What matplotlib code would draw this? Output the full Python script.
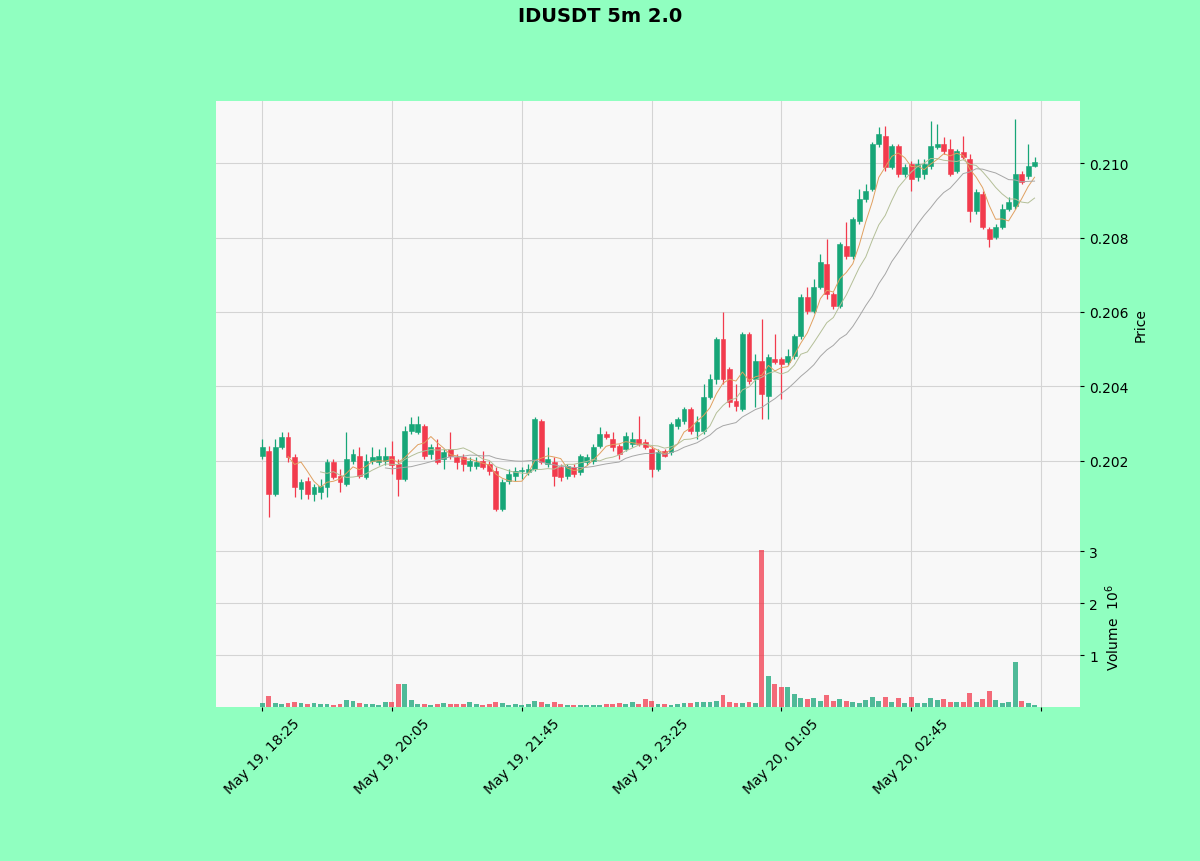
import numpy as np
import pandas as pd
import matplotlib
matplotlib.use("Agg")
import matplotlib.pyplot as plt

# 5 minute candles, May 19 18:25 -> May 20 04:20
opens = [
    0.20213, 0.20227, 0.20111, 0.20237, 0.20264, 0.20211, 0.20125, 0.20146, 0.20111, 0.20117,
    0.20130, 0.20197, 0.20160, 0.20138, 0.20200, 0.20213, 0.20157, 0.20200, 0.20197, 0.20200,
    0.20213, 0.20192, 0.20152, 0.20280, 0.20278, 0.20294, 0.20219, 0.20237, 0.20205, 0.20232,
    0.20211, 0.20211, 0.20186, 0.20186, 0.20200, 0.20192, 0.20173, 0.20071, 0.20146, 0.20160,
    0.20173, 0.20170, 0.20178, 0.20307, 0.20192, 0.20197, 0.20184, 0.20160, 0.20184, 0.20170,
    0.20197, 0.20200, 0.20240, 0.20272, 0.20259, 0.20240, 0.20232, 0.20246, 0.20259, 0.20251,
    0.20232, 0.20178, 0.20227, 0.20224, 0.20294, 0.20307, 0.20339, 0.20280, 0.20280, 0.20372,
    0.20420, 0.20527, 0.20447, 0.20361, 0.20339, 0.20541, 0.20420, 0.20468, 0.20374, 0.20474,
    0.20474, 0.20466, 0.20482, 0.20535, 0.20640, 0.20603, 0.20667, 0.20729, 0.20648, 0.20616,
    0.20777, 0.20750, 0.20844, 0.20903, 0.20930, 0.21051, 0.21072, 0.20989, 0.21046, 0.20970,
    0.20997, 0.20962, 0.20970, 0.20992, 0.21043, 0.21051, 0.21038, 0.20979, 0.21030, 0.21011,
    0.20871, 0.20917, 0.20823, 0.20801, 0.20828, 0.20876, 0.20885, 0.20970, 0.20965, 0.20992,
]
highs = [
    0.20259, 0.20240, 0.20259, 0.20278, 0.20278, 0.20219, 0.20152, 0.20157, 0.20138, 0.20152,
    0.20205, 0.20205, 0.20178, 0.20278, 0.20232, 0.20237, 0.20219, 0.20237, 0.20232, 0.20237,
    0.20254, 0.20205, 0.20294, 0.20318, 0.20321, 0.20299, 0.20246, 0.20259, 0.20232, 0.20278,
    0.20219, 0.20219, 0.20211, 0.20211, 0.20227, 0.20200, 0.20184, 0.20152, 0.20178, 0.20184,
    0.20184, 0.20192, 0.20318, 0.20313, 0.20237, 0.20211, 0.20192, 0.20192, 0.20192, 0.20219,
    0.20219, 0.20246, 0.20291, 0.20280, 0.20278, 0.20246, 0.20278, 0.20278, 0.20321, 0.20259,
    0.20240, 0.20232, 0.20232, 0.20305, 0.20318, 0.20345, 0.20345, 0.20321, 0.20407, 0.20433,
    0.20533, 0.20600, 0.20452, 0.20407, 0.20546, 0.20546, 0.20487, 0.20581, 0.20487, 0.20541,
    0.20479, 0.20501, 0.20541, 0.20648, 0.20667, 0.20689, 0.20757, 0.20796, 0.20654, 0.20788,
    0.20842, 0.20855, 0.20930, 0.20944, 0.21056, 0.21097, 0.21099, 0.21051, 0.21051, 0.20997,
    0.21005, 0.21011, 0.21011, 0.21113, 0.21105, 0.21070, 0.21064, 0.21038, 0.21072, 0.21024,
    0.20930, 0.20925, 0.20828, 0.20836, 0.20890, 0.20909, 0.21118, 0.20979, 0.21051, 0.21016,
]
lows = [
    0.20205, 0.20050, 0.20106, 0.20232, 0.20197, 0.20103, 0.20098, 0.20098, 0.20092, 0.20098,
    0.20103, 0.20152, 0.20117, 0.20133, 0.20192, 0.20154, 0.20152, 0.20192, 0.20189, 0.20189,
    0.20165, 0.20106, 0.20146, 0.20272, 0.20272, 0.20205, 0.20205, 0.20192, 0.20178, 0.20205,
    0.20178, 0.20173, 0.20173, 0.20178, 0.20178, 0.20162, 0.20066, 0.20066, 0.20138, 0.20146,
    0.20152, 0.20162, 0.20173, 0.20192, 0.20184, 0.20133, 0.20146, 0.20152, 0.20157, 0.20162,
    0.20189, 0.20192, 0.20235, 0.20259, 0.20227, 0.20205, 0.20227, 0.20237, 0.20240, 0.20232,
    0.20157, 0.20173, 0.20211, 0.20216, 0.20286, 0.20299, 0.20272, 0.20259, 0.20272, 0.20366,
    0.20407, 0.20407, 0.20345, 0.20334, 0.20334, 0.20407, 0.20345, 0.20313, 0.20313, 0.20460,
    0.20366, 0.20458, 0.20474, 0.20527, 0.20595, 0.20597, 0.20662, 0.20635, 0.20608, 0.20611,
    0.20742, 0.20742, 0.20836, 0.20895, 0.20925, 0.21043, 0.20979, 0.20984, 0.20962, 0.20962,
    0.20925, 0.20952, 0.20957, 0.20984, 0.21038, 0.21024, 0.20965, 0.20973, 0.21011, 0.20842,
    0.20863, 0.20823, 0.20774, 0.20796, 0.20823, 0.20871, 0.20876, 0.20944, 0.20957, 0.20989,
]
closes = [
    0.20237, 0.20111, 0.20237, 0.20264, 0.20211, 0.20130, 0.20143, 0.20111, 0.20130, 0.20133,
    0.20197, 0.20157, 0.20143, 0.20205, 0.20219, 0.20160, 0.20200, 0.20211, 0.20213, 0.20213,
    0.20189, 0.20152, 0.20280, 0.20299, 0.20299, 0.20213, 0.20237, 0.20197, 0.20224, 0.20213,
    0.20197, 0.20192, 0.20200, 0.20197, 0.20184, 0.20173, 0.20071, 0.20143, 0.20165, 0.20173,
    0.20176, 0.20178, 0.20313, 0.20197, 0.20205, 0.20160, 0.20157, 0.20186, 0.20165, 0.20213,
    0.20211, 0.20237, 0.20272, 0.20264, 0.20237, 0.20219, 0.20267, 0.20259, 0.20246, 0.20237,
    0.20178, 0.20224, 0.20213, 0.20299, 0.20313, 0.20339, 0.20280, 0.20305, 0.20372, 0.20420,
    0.20527, 0.20420, 0.20358, 0.20348, 0.20541, 0.20415, 0.20468, 0.20380, 0.20479, 0.20466,
    0.20460, 0.20482, 0.20535, 0.20640, 0.20603, 0.20667, 0.20734, 0.20648, 0.20616, 0.20783,
    0.20750, 0.20850, 0.20903, 0.20925, 0.21051, 0.21078, 0.20989, 0.21046, 0.20970, 0.20989,
    0.20957, 0.20997, 0.20997, 0.21046, 0.21051, 0.21032, 0.20970, 0.21032, 0.21016, 0.20871,
    0.20922, 0.20828, 0.20796, 0.20828, 0.20876, 0.20895, 0.20970, 0.20949, 0.20992, 0.21003,
]
# volume in millions
volumes = [
    0.07, 0.21, 0.08, 0.06, 0.07, 0.09, 0.08, 0.06, 0.07, 0.05,
    0.06, 0.04, 0.05, 0.14, 0.12, 0.08, 0.06, 0.05, 0.04, 0.10,
    0.09, 0.44, 0.45, 0.13, 0.06, 0.05, 0.04, 0.06, 0.07, 0.06,
    0.05, 0.06, 0.09, 0.05, 0.04, 0.06, 0.10, 0.07, 0.04, 0.05,
    0.04, 0.05, 0.11, 0.10, 0.06, 0.10, 0.05, 0.04, 0.03, 0.04,
    0.03, 0.03, 0.04, 0.05, 0.06, 0.08, 0.06, 0.09, 0.05, 0.15,
    0.12, 0.06, 0.05, 0.04, 0.05, 0.07, 0.08, 0.10, 0.09, 0.10,
    0.12, 0.24, 0.09, 0.08, 0.07, 0.10, 0.08, 3.03, 0.60, 0.44,
    0.38, 0.38, 0.25, 0.18, 0.15, 0.18, 0.12, 0.24, 0.12, 0.16,
    0.12, 0.10, 0.08, 0.13, 0.20, 0.12, 0.20, 0.10, 0.17, 0.08,
    0.20, 0.07, 0.08, 0.17, 0.13, 0.15, 0.10, 0.09, 0.10, 0.27,
    0.09, 0.16, 0.30, 0.14, 0.07, 0.09, 0.86, 0.12, 0.08, 0.04,
]
tick_labels = ["May 19, 18:25", "May 19, 20:05", "May 19, 21:45",
               "May 19, 23:25", "May 20, 01:05", "May 20, 02:45", ""]
mav_periods = [5, 10, 20]

up_color = "#17a678"
down_color = "#f23b4d"
mav_colors = ["#e0a060", "#b4bf98", "#a6a6a6"]

o = np.array(opens)
h = np.array(highs)
l = np.array(lows)
c = np.array(closes)
v = np.array(volumes)
x = np.arange(len(c))
up = c >= o
colors = np.where(up, up_color, down_color)

fig = plt.figure(figsize=(12, 8.62), dpi=100, facecolor="#90FFC0")
ax = fig.add_axes([0.18, 1 - 548 / 862, 0.72, (548 - 102) / 862])
axv = fig.add_axes([0.18, 1 - 708 / 862, 0.72, (708 - 548) / 862], sharex=ax)

for a in (ax, axv):
    a.set_facecolor("#f8f8f8")
    for s in a.spines.values():
        s.set_visible(False)
    a.grid(True, color="#d4d4d4", linewidth=0.8)
    a.set_axisbelow(True)
    a.yaxis.tick_right()
    a.yaxis.set_label_position("right")
    a.tick_params(labelsize=10, colors="black", length=3)

# candles
ax.vlines(x, l, h, colors=colors, linewidth=0.9, zorder=2)
body = np.maximum(np.abs(c - o), 0.000012)
ax.bar(x, body, bottom=np.minimum(o, c), width=0.75, color=colors,
       edgecolor=colors, linewidth=0.4, zorder=3)

# moving averages
cs = pd.Series(c)
for p, col in zip(mav_periods, mav_colors):
    ax.plot(x, cs.rolling(p).mean(), color=col, linewidth=0.7, zorder=4)

ax.set_ylim(0.19969, 0.211665)
ax.set_yticks([0.202, 0.204, 0.206, 0.208, 0.210])
ax.set_yticklabels(["0.202", "0.204", "0.206", "0.208", "0.210"])
ax.set_ylabel("Price", fontsize=10, labelpad=4)
ax.tick_params(axis="x", bottom=False, labelbottom=False)

# volume
axv.bar(x, v, width=0.75, color=colors, alpha=0.75, zorder=3)
axv.set_ylim(0, 3.08)
axv.set_yticks([1, 2, 3])
axv.set_ylabel("Volume  $10^6$", fontsize=10, labelpad=4)

axv.set_xlim(-7.1, 126.0)
axv.set_xticks(np.arange(0, 121, 20))
axv.set_xticklabels(tick_labels, rotation=45, ha="center", fontsize=10)

fig.suptitle("IDUSDT 5m 2.0", fontsize=14, fontweight="bold", y=0.992)

fig.savefig("out.png", dpi=100, facecolor=fig.get_facecolor())
